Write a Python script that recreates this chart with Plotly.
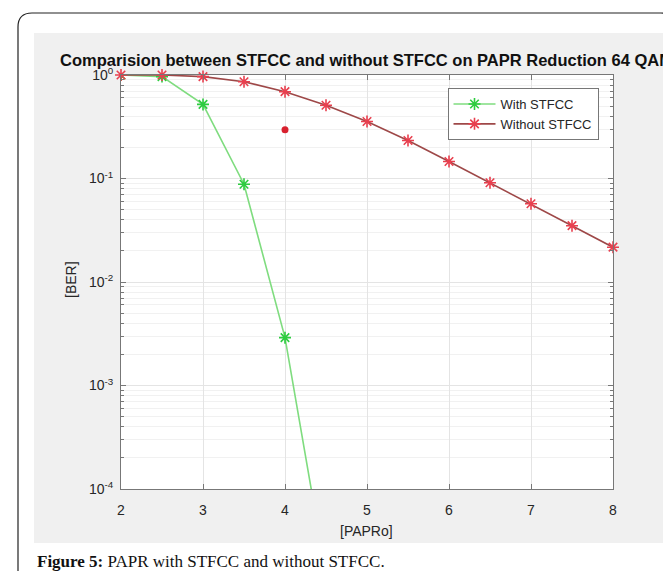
import plotly.graph_objects as go

# ---- data ----
x_with = [2, 2.5, 3, 3.5, 4, 4.5]
ber_with = [1.0, 0.965, 0.52, 0.088, 0.0029, 1.5e-5]

x_without = [2, 2.5, 3, 3.5, 4, 4.5, 5, 5.5, 6, 6.5, 7, 7.5, 8]
ber_without = [1.0, 1.0, 0.965, 0.86, 0.69, 0.51, 0.355, 0.233, 0.146, 0.091, 0.057, 0.035, 0.0217]

x_dot = [4]
ber_dot = [0.295]

x_ticks = [2, 3, 4, 5, 6, 7, 8]
y_tick_vals = [1e-4, 1e-3, 1e-2, 1e-1, 1]
y_tick_text = ["10<sup>-4</sup>", "10<sup>-3</sup>", "10<sup>-2</sup>", "10<sup>-1</sup>", "10<sup>0</sup>"]
minor_vals = [k * 10.0 ** e for e in range(-4, 0) for k in range(2, 10)]

title_text = "Comparision between STFCC and without STFCC on PAPR Reduction 64 QAM"
caption_text = "<b>Figure 5:</b> PAPR with STFCC and without STFCC."

# ---- layout geometry ----
W, H = 671, 571
L, R, T, B = 113, 605, 67, 481


def px(x):
    return (x - L) / (R - L)


def py(y):
    return (B - y) / (B - T)


AX = "#777777"
TXT = "#262626"
FONT = "Liberation Sans, Arial, sans-serif"

fig = go.Figure()
fig.add_trace(go.Scatter(
    x=x_with, y=ber_with, name="With STFCC", mode="lines+markers",
    line=dict(color="#7fdc7f", width=1.6),
    marker=dict(symbol="asterisk-open", size=10, color="#2ecc40",
                line=dict(color="#2ecc40", width=1.6)),
))
fig.add_trace(go.Scatter(
    x=x_without, y=ber_without, name="Without STFCC", mode="lines+markers",
    line=dict(color="#9e4848", width=1.6),
    marker=dict(symbol="asterisk-open", size=10, color="#e8404f",
                line=dict(color="#e8404f", width=1.6)),
    cliponaxis=False,
))
fig.add_trace(go.Scatter(
    x=x_dot, y=ber_dot, mode="markers", showlegend=False,
    marker=dict(symbol="circle", size=7, color="#d8202e"),
))

r = 14
path = (f"M {px(10)},{py(600)} L {px(10)},{py(5 + r)} "
        f"Q {px(10)},{py(5)} {px(10 + r)},{py(5)} "
        f"L {px(667 - r)},{py(5)} Q {px(667)},{py(5)} {px(667)},{py(5 + r)} "
        f"L {px(667)},{py(600)}")

shapes = [
    dict(type="rect", xref="paper", yref="paper", x0=px(26), x1=px(661), y0=py(535), y1=py(25),
         fillcolor="#f0f0f0", line=dict(width=0), layer="below"),
    dict(type="rect", xref="paper", yref="paper", x0=0, x1=1, y0=0, y1=1,
         fillcolor="white", line=dict(width=0), layer="below"),
    dict(type="path", xref="paper", yref="paper", path=path,
         line=dict(color="#222222", width=1.2), layer="above"),
]

annotations = [
    dict(text=f"<b>{title_text}</b>", xref="paper", yref="paper", x=px(358.7), y=py(52),
         xanchor="center", yanchor="middle", showarrow=False,
         font=dict(family=FONT, size=16.5, color="#111111")),
    dict(text="[PAPRo]", xref="paper", yref="paper", x=px(358.7), y=py(523),
         xanchor="center", yanchor="middle", showarrow=False,
         font=dict(family=FONT, size=14, color=TXT)),
    dict(text="[BER]", xref="paper", yref="paper", x=px(63), y=py(272),
         xanchor="center", yanchor="middle", showarrow=False, textangle=-90,
         font=dict(family=FONT, size=14, color=TXT)),
    dict(text=caption_text, xref="paper", yref="paper", x=px(27), y=py(553),
         xanchor="left", yanchor="middle", showarrow=False,
         font=dict(family="Liberation Serif, Times New Roman, serif", size=17, color="#111111")),
]

fig.update_layout(
    width=W, height=H,
    margin=dict(l=L, r=W - R, t=T, b=H - B, pad=0),
    paper_bgcolor="white", plot_bgcolor="white",
    shapes=shapes, annotations=annotations,
    showlegend=True,
    legend=dict(x=px(439.5), y=py(80), xanchor="left", yanchor="top",
                bgcolor="white", bordercolor=AX, borderwidth=1,
                font=dict(family=FONT, size=13, color=TXT),
                tracegroupgap=0, itemwidth=42),
    font=dict(family=FONT, size=14, color=TXT),
)

fig.update_xaxes(
    range=[2, 8], tickvals=x_ticks, ticks="inside", ticklen=5, tickcolor=AX,
    showline=True, linecolor=AX, linewidth=1, mirror="ticks",
    showgrid=True, gridcolor="#e4e4e4", gridwidth=1, zeroline=False,
    tickfont=dict(family=FONT, size=14, color=TXT), ticklabelstandoff=8,
)
fig.update_yaxes(
    type="log", range=[-4, 0], tickvals=y_tick_vals, ticktext=y_tick_text,
    ticks="inside", ticklen=5, tickcolor=AX,
    showline=True, linecolor=AX, linewidth=1, mirror="ticks",
    showgrid=True, gridcolor="#e4e4e4", gridwidth=1, zeroline=False,
    tickfont=dict(family=FONT, size=14, color=TXT), ticklabelstandoff=4,
    minor=dict(tickvals=minor_vals, ticks="inside", ticklen=3, tickcolor=AX,
               showgrid=True, gridcolor="#f1f1f1", gridwidth=1),
)

fig.write_html("out.html")
